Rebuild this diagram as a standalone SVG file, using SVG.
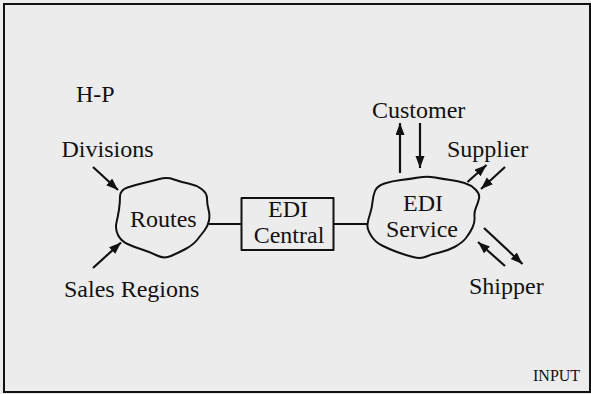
<svg xmlns="http://www.w3.org/2000/svg" width="591" height="394" viewBox="0 0 591 394">
<style>
.t{font-size:24px;fill:#111}
.s{font-size:16px;fill:#111}
.sh{fill:none;stroke:#111;stroke-width:2;stroke-linejoin:round}
.ln{stroke:#111;stroke-width:2;fill:none}
.ar{stroke:#111;stroke-width:2.2;fill:none;marker-end:url(#ah)}
</style>
<defs>
<marker id="ah" markerUnits="userSpaceOnUse" markerWidth="13" markerHeight="10" refX="12" refY="4.5" orient="auto">
<path d="M0,0 L12,4.5 L0,9 z" fill="#111"/>
</marker>
</defs>
<rect x="0" y="0" width="591" height="394" fill="#ececec"/>
<rect x="4" y="4" width="586" height="388" fill="none" stroke="#111" stroke-width="2"/>

<g id="label-hp"><text class="t" font-family="Liberation Serif" x="76" y="102">H-P</text></g>

<g id="routes">
<path class="sh" d="M120,196.5 Q120,190 127.5,187.5 Q135,185 143.5,183 Q152,181 159.5,179 Q167,177 174,179.5 Q181,182 188.5,183.5 Q196,185 201.5,189 Q207,193 207,198.5 Q207,204 208.5,209.5 Q210,215 209,220.5 Q208,226 204.5,230.5 Q201,235 197,240 Q193,245 185.5,249 Q178,253 171,256 Q164,259 157,255.5 Q150,252 142,249.5 Q134,247 127.5,244 Q121,241 118,235 Q115,229 116.5,222.5 Q118,216 119,209.5 Q120,203 120,196.5 Z"/>
<text class="t" font-family="Liberation Serif" x="130" y="227">Routes</text>
</g>

<g id="edi-central">
<rect class="sh" x="241.5" y="198" width="92" height="52"/>
<text class="t" font-family="Liberation Serif" text-anchor="middle" x="288" y="217">EDI</text>
<text class="t" font-family="Liberation Serif" text-anchor="middle" x="289" y="243">Central</text>
</g>

<g id="edi-service">
<path class="sh" d="M375,191 Q377,186 384.5,183.5 Q392,181 401,180 Q410,179 418.5,177.5 Q427,176 435,177.5 Q443,179 450.5,180 Q458,181 464.5,183 Q471,185 475.5,189.5 Q480,194 479,198.5 Q478,203 476,207.5 Q474,212 474.5,217 Q475,222 472.5,227.5 Q470,233 466,238 Q462,243 454.5,247 Q447,251 439.5,252.5 Q432,254 426.5,256.5 Q421,259 413,257 Q405,255 397,252 Q389,249 382,245.5 Q375,242 371,235.5 Q367,229 367.5,224.5 Q368,220 370,214 Q372,208 372.5,202 Q373,196 375,191 Z"/>
<text class="t" font-family="Liberation Serif" text-anchor="middle" x="423" y="210.5">EDI</text>
<text class="t" font-family="Liberation Serif" text-anchor="middle" x="422" y="236.5">Service</text>
</g>

<g id="label-customer"><text class="t" font-family="Liberation Serif" x="372" y="118">Customer</text></g>
<g id="label-divisions"><text class="t" font-family="Liberation Serif" x="61.5" y="157">Divisions</text></g>
<g id="label-supplier"><text class="t" font-family="Liberation Serif" x="447" y="157">Supplier</text></g>
<g id="label-sales"><text class="t" font-family="Liberation Serif" x="64" y="297">Sales Regions</text></g>
<g id="label-shipper"><text class="t" font-family="Liberation Serif" x="469" y="294">Shipper</text></g>
<g id="label-input"><text class="s" font-family="Liberation Serif" x="533" y="381">INPUT</text></g>

<g id="connectors">
<line class="ln" x1="209" y1="224" x2="241.5" y2="224"/>
<line class="ln" x1="333.5" y1="224" x2="367.5" y2="224"/>
<line class="ar" x1="93" y1="167" x2="118" y2="190"/>
<line class="ar" x1="93" y1="268" x2="121" y2="242.5"/>
<line class="ar" x1="400" y1="173" x2="400" y2="123"/>
<line class="ar" x1="420" y1="123" x2="420" y2="168"/>
<line class="ar" x1="467.5" y1="182" x2="486.5" y2="165"/>
<line class="ar" x1="505" y1="167" x2="481" y2="189"/>
<line class="ar" x1="484" y1="228" x2="522.5" y2="264"/>
<line class="ar" x1="505" y1="266" x2="478" y2="242"/>
</g>
</svg>
